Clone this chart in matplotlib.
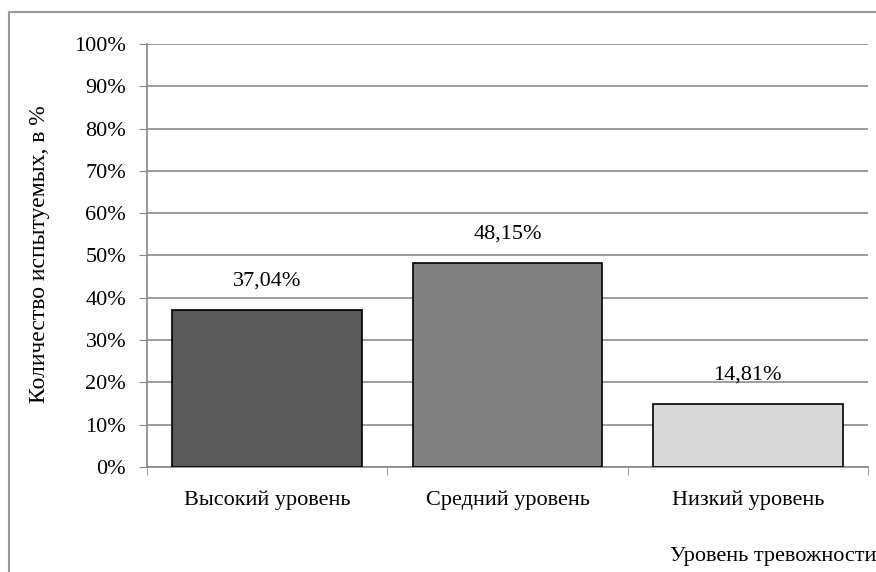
import matplotlib
matplotlib.use("Agg")
import matplotlib.pyplot as plt
from matplotlib.lines import Line2D

categories = ["Высокий уровень", "Средний уровень", "Низкий уровень"]
values = [37.04, 48.15, 14.81]
bar_colors = ["#595959", "#808080", "#d9d9d9"]
y_ticks = list(range(0, 101, 10))

plt.rcParams["font.family"] = ["Liberation Serif", "DejaVu Serif"]

fig = plt.figure(figsize=(8.76, 5.72), dpi=100)
ax = fig.add_axes([147 / 876, 105 / 572, 721 / 876, 423 / 572])

x = list(range(len(categories)))
bars = ax.bar(x, values, width=0.79, color=bar_colors, edgecolor="black",
              linewidth=1.2, zorder=3)

# value labels a fixed distance above each bar
for xi, v in zip(x, values):
    ax.annotate(f"{v:.2f}%".replace(".", ","), xy=(xi, v), xytext=(0, 29),
                textcoords="offset pixels", ha="center", va="center",
                fontsize=16)

ax.set_xlim(-0.5, len(categories) - 0.5)
ax.set_ylim(0, 100)
ax.set_yticks(y_ticks)
ax.set_yticklabels([f"{t}%" for t in y_ticks], fontsize=16)
ax.set_xticks(x)
ax.set_xticklabels(categories, fontsize=16)
ax.tick_params(axis="x", length=0, pad=17)
ax.tick_params(axis="y", length=6, color="#888888", pad=9)

# category boundary ticks on the x axis
ax.set_xticks([-0.5, 0.5, 1.5, 2.5], minor=True)
ax.tick_params(axis="x", which="minor", length=6, color="#888888")

ax.grid(axis="y", color="#8c8c8c", linewidth=1.2, zorder=0)
for side in ["top", "right"]:
    ax.spines[side].set_visible(False)
ax.spines["left"].set_color("#888888")
ax.spines["bottom"].set_color("#888888")
ax.spines["left"].set_linewidth(1.2)
ax.spines["bottom"].set_linewidth(1.2)

fig.text(40 / 876, 1 - 254 / 572, "Количество испытуемых, в %", rotation=90,
         ha="center", va="center", fontsize=17)
fig.text(1.0, 1 - 556 / 572, "Уровень тревожности", ha="right", va="center",
         fontsize=16)

# outer chart frame (left and top edges visible)
fig.add_artist(Line2D([9 / 876, 9 / 876], [0, 1 - 12 / 572],
                      transform=fig.transFigure, color="#999999", linewidth=1.5))
fig.add_artist(Line2D([9 / 876, 1], [1 - 12 / 572, 1 - 12 / 572],
                      transform=fig.transFigure, color="#999999", linewidth=1.5))

fig.savefig("out.png", dpi=100)
